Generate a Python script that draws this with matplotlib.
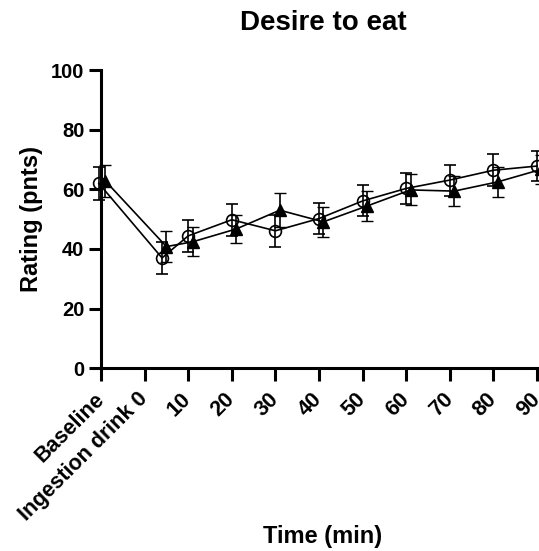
import matplotlib
matplotlib.use("Agg")
import matplotlib.pyplot as plt

plt.rcParams['font.family'] = ['Liberation Sans', 'DejaVu Sans']
plt.rcParams['font.weight'] = 'bold'

tick_positions = [-10, 0, 10, 20, 30, 40, 50, 60, 70, 80, 90]
tick_labels = ['Baseline', 'Ingestion drink 0', '10', '20', '30', '40', '50', '60', '70', '80', '90']

circle_time = [-10.5, 4, 10, 20, 30, 40, 50, 60, 70, 80, 90]
circle_mean = [62.0, 37.0, 44.4, 49.8, 46.1, 50.2, 56.1, 60.3, 63.1, 66.4, 67.8]
circle_sem = [5.5, 5.3, 5.4, 5.4, 5.3, 5.1, 5.2, 5.3, 5.2, 5.3, 5.0]

tri_time = [-9, 5, 11, 21, 31, 41, 51, 61, 71, 81, 91]
tri_mean = [62.8, 40.8, 42.4, 46.7, 53.0, 49.1, 54.4, 59.8, 59.4, 62.5, 66.7]
tri_sem = [5.5, 5.3, 4.9, 4.8, 5.7, 5.0, 5.0, 5.2, 5.0, 5.1, 4.8]

fig = plt.figure(figsize=(5.39, 5.51), dpi=100)
ax = fig.add_axes([101/539, 182.7/551, 438.2/539, 298.3/551])

ax.errorbar(circle_time, circle_mean, yerr=circle_sem, color='black', lw=1.2,
            marker='o', ms=8.5, mfc='none', mec='black', mew=1.2,
            capsize=4.3, capthick=1.2, elinewidth=1.2, clip_on=False, zorder=3)
ax.errorbar(tri_time, tri_mean, yerr=tri_sem, color='black', lw=1.2,
            marker='^', ms=8.5, mfc='black', mec='black', mew=1.0,
            capsize=4.3, capthick=1.2, elinewidth=1.2, clip_on=False, zorder=3)

ax.set_xlim(-10, 90.5)
ax.set_ylim(0, 100)
ax.set_yticks([0, 20, 40, 60, 80, 100])
ax.set_xticks(tick_positions)
ax.set_xticklabels(tick_labels, rotation=45, ha='right', va='center',
                   rotation_mode='anchor', fontsize=15.5, fontweight='bold')
for lab in ax.get_yticklabels():
    lab.set_fontsize(14.5)
    lab.set_fontweight('bold')

for s in ['top', 'right']:
    ax.spines[s].set_visible(False)
for s in ['left', 'bottom']:
    ax.spines[s].set_linewidth(2.2)
ax.tick_params(axis='both', length=9, width=2.2, direction='out')
ax.tick_params(axis='x', pad=11)
ax.tick_params(axis='y', pad=3)

ax.set_title('Desire to eat', fontsize=20, fontweight='bold', pad=0,
             x=0.507, y=(368.3 - 30) / 298.3, va='baseline')
ax.set_ylabel('Rating (pnts)', fontsize=17, fontweight='bold', labelpad=6)
ax.set_xlabel('Time (min)', fontsize=17, fontweight='bold', va='baseline')
ax.xaxis.set_label_coords((323 - 101) / 438.2, (368.3 - 542.7) / 298.3)

fig.savefig('out.png', dpi=100)
